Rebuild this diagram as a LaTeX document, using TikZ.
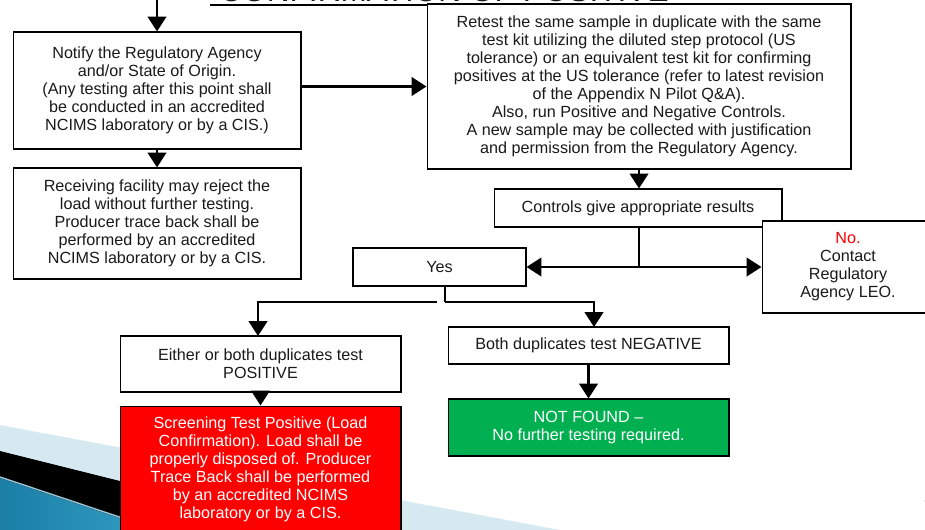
\documentclass[tikz,border=0pt]{standalone}
\usepackage{fontspec}
\setmainfont{Liberation Sans}
\usepackage{tikz}
\usetikzlibrary{arrows.meta}
\usepackage{xcolor}
\definecolor{textgray}{HTML}{1A1A1A}
\definecolor{okgreen}{HTML}{00B050}
\definecolor{swooshblue}{HTML}{D6E9F1}
\definecolor{deepteal}{HTML}{1B7FA6}
\definecolor{lightteal}{HTML}{3AA6CC}
\definecolor{edgeteal}{HTML}{9CC9DA}
\tikzset{>={Triangle[width=10.5pt,length=8.5pt]}}

\begin{document}
\begin{tikzpicture}[x=0.02cm, y=-0.02cm]
                        % coordinates are in pixels of the slide, y grows downwards
                        \tikzstyle{every node}=[font=\fontsize{9.2}{10.24}\selectfont, text=textgray, align=center]
                        \tikzstyle{box}=[draw=black, line width=0.6pt, fill=white, inner sep=0pt]
                        \tikzstyle{flow}=[line width=1.6pt, black]
                        \useasboundingbox (0,0) rectangle (925,529);

                        % slide background
                        \fill[swooshblue] (0,425) -- (560,530) -- (0,530) -- cycle;
                        \fill[black] (0,451) -- (400,551) -- (0,551) -- cycle;
                        \shade[left color=deepteal, right color=lightteal] (0,478) -- (200,545) -- (0,545) -- cycle;
                        \draw[edgeteal, line width=0.8pt] (0,477) -- (200,544);
                        \node[anchor=west, font=\fontsize{14}{16}\selectfont] (pageno) at (917,494) {1};

                        % title, cut by the top edge
                        \node[anchor=base, font=\fontsize{18}{20}\selectfont] (title) at (444,1.5) {CONFIRMATION OF POSITIVE};
                        \draw[line width=1pt] (210,5) -- (678,5);

                        \node[box, minimum width=5.76cm, minimum height=2.34cm] (notify) at (157,90.5)
                                {Notify the Regulatory Agency\\and/or State of Origin.\\(Any testing after this point shall\\be conducted in an accredited\\NCIMS laboratory or by a CIS.)};
                        \node[box, minimum width=5.76cm, minimum height=2.22cm] (receive) at (157,223.5)
                                {Receiving facility may reject the\\load without further testing.\\Producer trace back shall be\\performed by an accredited\\NCIMS laboratory or by a CIS.};
                        \node[box, minimum width=8.48cm, minimum height=3.3cm] (retest) at (639,86.5)
                                {Retest the same sample in duplicate with the same\\test kit utilizing the diluted step protocol (US\\tolerance) or an equivalent test kit for confirming\\positives at the US tolerance (refer to latest revision\\of the Appendix N Pilot Q\&A).\\Also, run Positive and Negative Controls.\\A new sample may be collected with justification\\and permission from the Regulatory Agency.};
                        \node[box, minimum width=5.76cm, minimum height=0.76cm] (controls) at (638,208)
                                {Controls give appropriate results};
                        \node[box, minimum width=3.46cm, minimum height=0.76cm] (yes) at (439.5,267) {Yes};
                        \node[box, minimum width=3.44cm, minimum height=1.84cm] (no) at (848,267)
                                {\textcolor{red}{No.}\\Contact\\Regulatory\\Agency LEO.};
                        \node[box, minimum width=5.62cm, minimum height=1.12cm] (pos) at (260.5,364)
                                {Either or both duplicates test\\POSITIVE};
                        \node[box, fill=red, text=white, minimum width=5.62cm, minimum height=2.52cm] (screen) at (260.5,469)
                                {Screening Test Positive (Load\\Confirmation). Load shall be\\properly disposed of. Producer\\Trace Back shall be performed\\by an accredited NCIMS\\laboratory or by a CIS.};
                        \node[box, minimum width=5.62cm, minimum height=0.74cm] (neg) at (588.5,345.5)
                                {Both duplicates test NEGATIVE};
                        \node[box, fill=okgreen, text=white, minimum width=5.62cm, minimum height=1.14cm] (found) at (588.5,427.5)
                                {NOT FOUND --\\No further testing required.};

                        \coordinate (top) at (157,-5);
                        \coordinate (split) at (639,267);
                        \coordinate (yesout) at (445,286);
                        \coordinate (fork) at (445,302);
                        \coordinate (gap) at (437,302);
                        \coordinate (negin) at (594,327);
                        \coordinate (posin) at (258,336);

                        \draw[flow, ->] (top) -- (notify.north);
                        \draw[flow, ->] (notify.south) -- (receive.north);
                        \draw[flow, ->] (notify.east |- retest.west) -- (retest.west);
                        \draw[flow, ->] (retest.south) -- (retest.south |- controls.north);
                        \draw[flow] (controls.south -| split) -- (split);
                        \draw[flow, ->] (split) -- (yes.east);
                        \draw[flow, ->] (split) -- (no.west);
                        \draw[flow] (yesout) -- (fork);
                        \draw[flow, ->] (fork) -| (negin);
                        \draw[flow, ->] (gap) -| (posin);
                        \draw[flow, ->] (pos.south) -- (screen.north);
                        \draw[flow, ->] (neg.south) -- (found.north);

                \end{tikzpicture}
\end{document}
